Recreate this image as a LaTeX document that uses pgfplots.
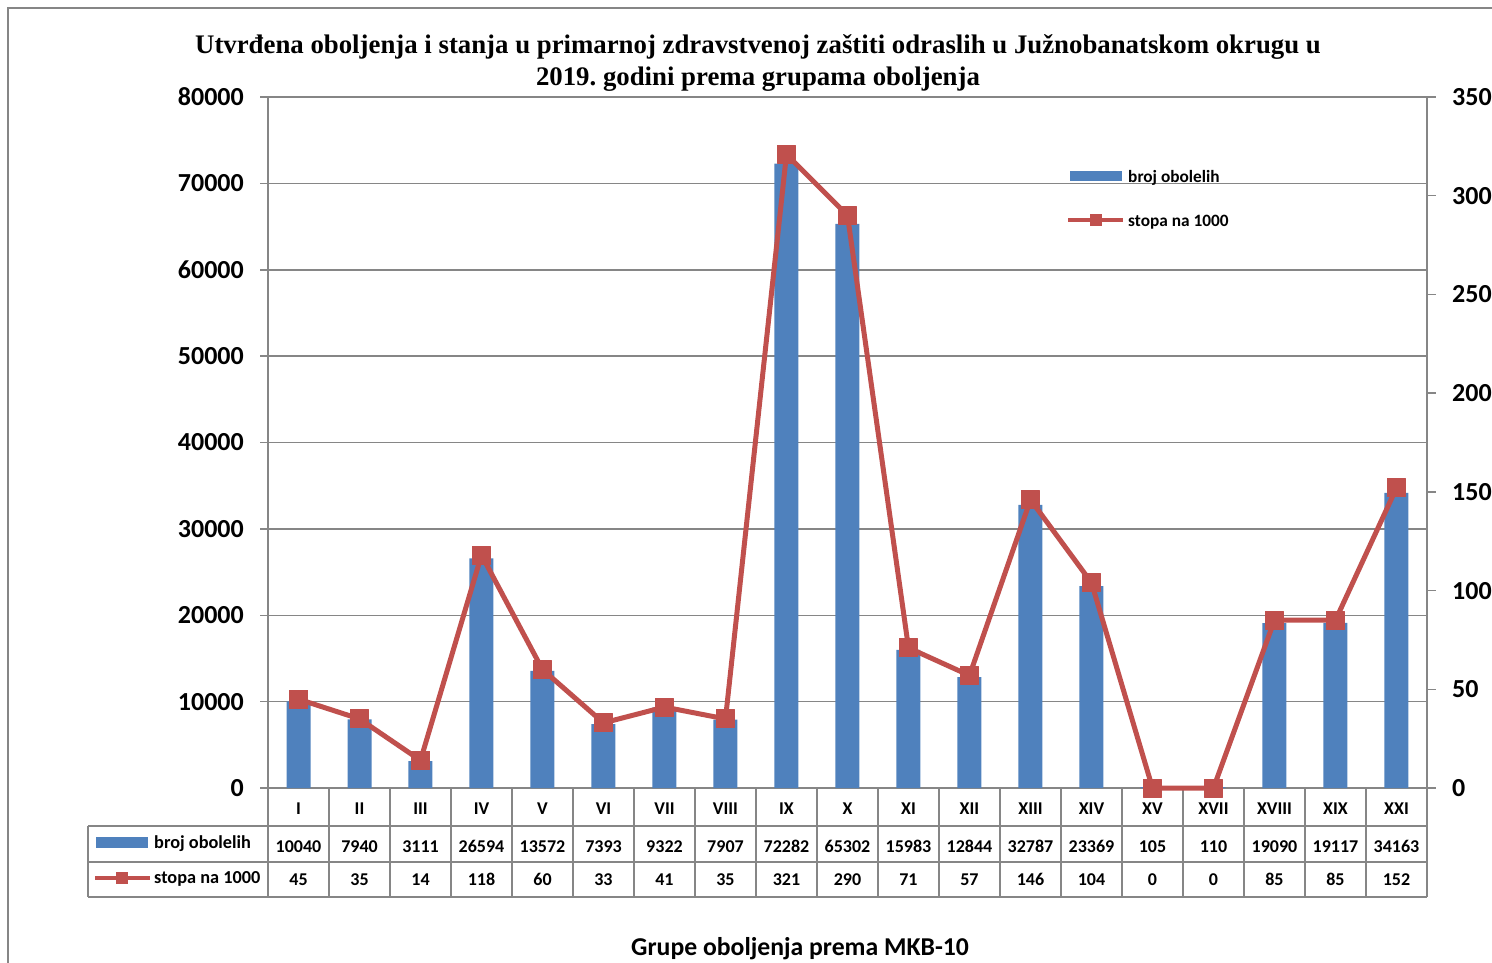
\documentclass[border=0pt]{standalone}
\usepackage{fontspec}
\setmainfont{Carlito}
\newfontfamily\titlefont{Liberation Serif}
\usepackage{pgfplots}
\usepackage{pgfplotstable}
\pgfplotsset{compat=1.18}
\definecolor{barblue}{RGB}{79,129,189}
\definecolor{linered}{RGB}{192,80,77}
\definecolor{gridgray}{RGB}{134,134,134}

\pgfplotstableread{
x cat broj stopa
0 I 10040 45
1 II 7940 35
2 III 3111 14
3 IV 26594 118
4 V 13572 60
5 VI 7393 33
6 VII 9322 41
7 VIII 7907 35
8 IX 72282 321
9 X 65302 290
10 XI 15983 71
11 XII 12844 57
12 XIII 32787 146
13 XIV 23369 104
14 XV 105 0
15 XVII 110 0
16 XVIII 19090 85
17 XIX 19117 85
18 XXI 34163 152
}\data

\begin{document}
\frenchspacing
\begin{tikzpicture}[x=1pt,y=1pt]
\path[use as bounding box] (0,0) rectangle (1492,-962);
\draw[gridgray, line width=1.5pt] (8,-1000) -- (8,-8) -- (1600,-8);
\node[font=\titlefont\fontsize{26.8}{30}\selectfont\bfseries, anchor=base] at (758,-53) {Utvrđena oboljenja i stanja u primarnoj zdravstvenoj zaštiti odraslih u Južnobanatskom okrugu u};
\node[font=\titlefont\fontsize{26.8}{30}\selectfont\bfseries, anchor=base] at (758,-85) {2019.\ godini prema grupama oboljenja};

\begin{axis}[
  at={(268pt,-788pt)}, anchor=south west,
  scale only axis, width=1159pt, height=691pt,
  xmin=-0.5, xmax=18.5, ymin=0, ymax=80000,
  clip=false,
  axis x line*=bottom, axis y line*=left,
  axis line style={-, draw=gridgray, line width=1.5pt},
  ytick={0,10000,...,80000},
  scaled y ticks=false,
  /pgf/number format/fixed,
  /pgf/number format/1000 sep={},
  /pgf/number format/assume math mode=true,
  yticklabel style={anchor=east, inner sep=0pt, xshift=-16pt, font=\fontsize{26}{26}\selectfont\bfseries},
  tick align=outside,
  major tick length=8pt,
  ytick style={draw=gridgray, line width=1.5pt},
  ymajorgrids, grid style={draw=gridgray, line width=1.5pt},
  xtick={0,...,18},
  xticklabels from table={\data}{cat},
  xtick style={draw=none},
  xticklabel style={anchor=base, inner sep=0pt, yshift=-18pt, font=\fontsize{18}{18}\selectfont\bfseries},
  xlabel={Grupe oboljenja prema MKB-10},
  xlabel style={at={(axis description cs:0.4591,-0.2431)}, anchor=base, inner sep=0pt, font=\fontsize{25.7}{26}\selectfont\bfseries},
]
\addplot[ybar, bar width=24pt, bar shift=0pt, fill=barblue, draw=none] table[x=x, y=broj] {\data};
\addplot[draw=none, mark=none, forget plot, nodes near coords, point meta=explicit symbolic,
  nodes near coords style={anchor=base, inner sep=0pt, yshift=-64pt, font=\fontsize{18}{18}\selectfont\bfseries}]
  table[x=x, y expr=0, meta=broj] {\data};
\addplot[draw=none, mark=none, forget plot, nodes near coords, point meta=explicit symbolic,
  nodes near coords style={anchor=base, inner sep=0pt, yshift=-97pt, font=\fontsize{18}{18}\selectfont\bfseries}]
  table[x=x, y expr=0, meta=stopa] {\data};
\end{axis}

% table grid
\begin{scope}[gridgray, line width=1.5pt]
\draw (88,-826) -- (1427,-826);
\draw (88,-862) -- (1427,-862);
\draw (88,-897) -- (1427,-897);
\draw (88,-826) -- (88,-897);
\foreach \k in {0,...,19} {\draw ({268+61*\k},-788) -- ({268+61*\k},-897);}
\end{scope}
% table legend
\fill[barblue] (96,-837) rectangle (148,-848);
\node[anchor=base west, inner sep=0pt, font=\fontsize{18.3}{18}\selectfont\bfseries] at (154,-848) {broj obolelih};
\draw[linered, line width=4pt] (95,-878) -- (150,-878);
\fill[linered] (116,-872) rectangle (128,-884);
\node[anchor=base west, inner sep=0pt, font=\fontsize{18.3}{18}\selectfont\bfseries] at (154,-883) {stopa na 1000};

\begin{axis}[
  at={(268pt,-788pt)}, anchor=south west,
  scale only axis, width=1159pt, height=691pt,
  xmin=-0.5, xmax=18.5, ymin=0, ymax=350,
  clip=false,
  axis x line=none, axis y line*=right,
  axis line style={-, draw=gridgray, line width=1.5pt},
  ytick={0,50,...,350},
  /pgf/number format/assume math mode=true,
  yticklabel style={anchor=west, inner sep=0pt, xshift=16pt, font=\fontsize{26}{26}\selectfont\bfseries},
  tick align=outside,
  major tick length=9pt,
  ytick style={draw=gridgray, line width=1.5pt},
]
\addplot[linered, line width=5pt, line join=round, mark=square*, mark size=9pt,
  mark options={solid, fill=linered, draw=linered, line width=1pt}]
  table[x=x, y=stopa] {\data};
\end{axis}

% plot legend
\fill[barblue] (1070,-171) rectangle (1122,-181);
\node[anchor=base west, inner sep=0pt, font=\fontsize{17.3}{18}\selectfont\bfseries] at (1128,-182) {broj obolelih};
\draw[linered, line width=4pt] (1068,-220) -- (1123,-220);
\fill[linered] (1090,-214) rectangle (1102,-226);
\node[anchor=base west, inner sep=0pt, font=\fontsize{17.3}{18}\selectfont\bfseries] at (1128,-226) {stopa na 1000};
\end{tikzpicture}
\end{document}
